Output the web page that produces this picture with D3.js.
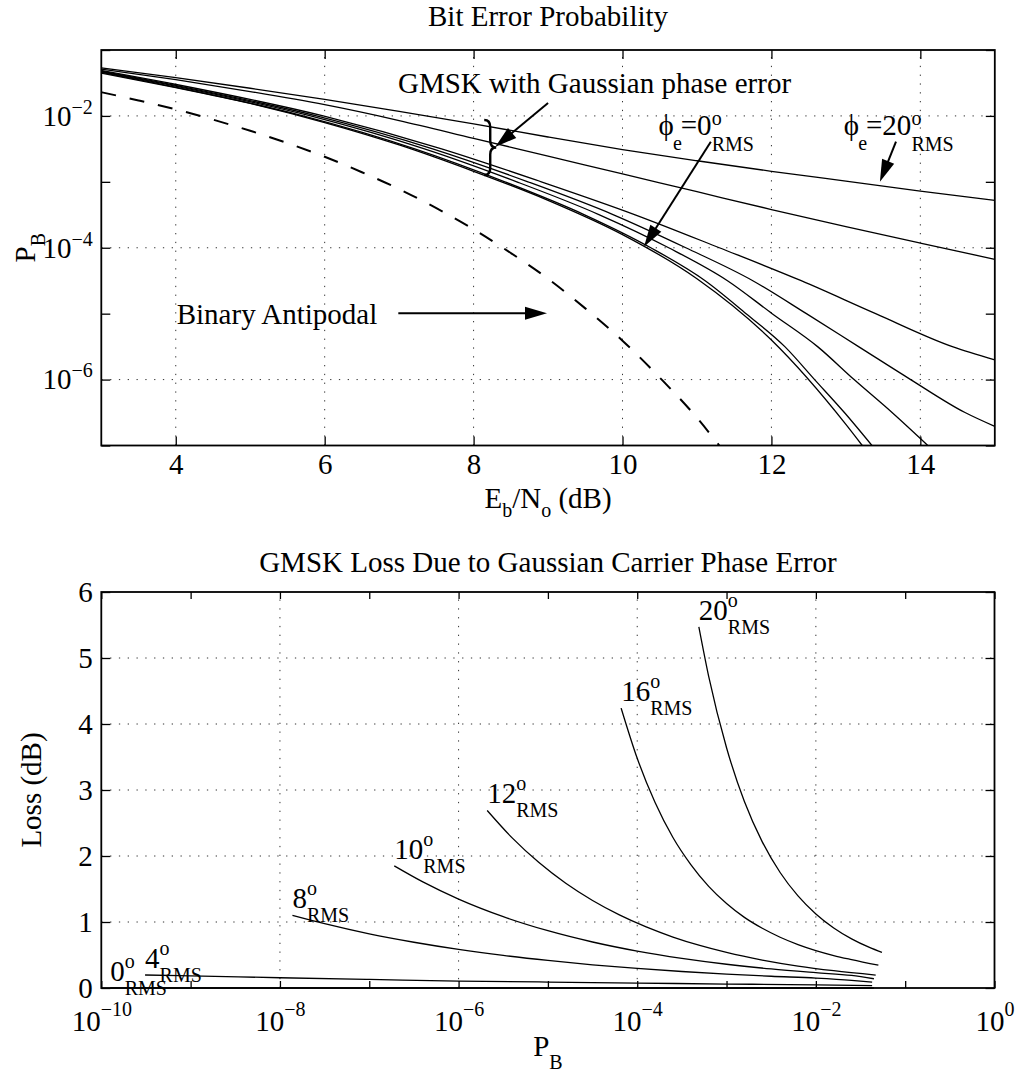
<!DOCTYPE html>
<html><head><meta charset="utf-8">
<script src="https://cdn.jsdelivr.net/npm/d3@7"></script>
<style>body{margin:0;background:#fff}</style>
</head><body>
<svg id="c" width="1017" height="1074"></svg>
<script>
// ---------------- DATA ----------------
// Top plot: Eb/No (dB) vs log10(P_B)
const antipodalEbNo = [3,3.5,4,4.5,5,5.5,6,6.5,7,7.5,8,8.5,9,9.5,10,10.5,11,11.3];
const antipodalLogPB = [-1.64,-1.765,-1.90,-2.056,-2.226,-2.413,-2.62,-2.854,-3.11,-3.40,-3.72,-4.08,-4.47,-4.92,-5.41,-5.97,-6.58,-7.0];

const ebno_phi0  = [3,4,5,6,7,8,9,10,11,12,13,13.22];
const logpb_phi0 = [-1.35,-1.57,-1.81,-2.10,-2.44,-2.84,-3.28,-3.80,-4.47,-5.40,-6.68,-7.0];
const ebno_phi4  = [3,3.72,5.71,7.21,8.42,9.49,10.38,11.11,11.66,12.18,12.58,12.98,13.35];
const logpb_phi4 = [-1.34,-1.5,-2,-2.5,-3,-3.5,-4,-4.5,-5,-5.5,-6,-6.5,-7];
const ebno_phi8  = [3,3.78,5.81,7.34,8.58,9.69,10.62,11.41,12.01,12.62,13.11,13.62,14.10];
const logpb_phi8 = [-1.33,-1.5,-2,-2.5,-3,-3.5,-4,-4.5,-5,-5.5,-6,-6.5,-7];
const ebno_phi10  = [3,3.83,5.89,7.45,8.73,9.88,10.85,11.75,12.47,13.17,13.87,14.6,15];
const logpb_phi10 = [-1.32,-1.5,-2,-2.5,-3,-3.5,-4,-4.5,-5,-5.5,-6,-6.5,-6.71];
const ebno_phi12  = [3,3.90,5.98,7.57,8.91,10.17,11.30,12.40,13.40,14.43,15];
const logpb_phi12 = [-1.31,-1.5,-2,-2.5,-3,-3.5,-4,-4.5,-5,-5.5,-5.70];
const ebno_phi16  = [3,4,5,6,7,8,9,10,11,12,13,14,15];
const logpb_phi16 = [-1.29,-1.45,-1.63,-1.83,-2.07,-2.34,-2.61,-2.88,-3.15,-3.42,-3.68,-3.93,-4.175];
const ebno_phi20  = [3,4,5,6,7,8,9,10,11,12,13,14,15];
const logpb_phi20 = [-1.27,-1.42,-1.58,-1.75,-1.93,-2.12,-2.32,-2.51,-2.68,-2.84,-2.99,-3.14,-3.28];

// Bottom plot: log10(P_B) vs Loss (dB)
const phiNames = ["0","4","8","10","12","16","20"];
const lossPB_phi0 = [-9.9,-1.35];
const loss_phi0   = [0,0];
const lossPB_phi4 = [-9.51,-9,-8,-7,-6,-5,-4,-3,-2,-1.37];
const loss_phi4   = [0.197,0.185,0.155,0.13,0.105,0.09,0.075,0.06,0.048,0.035];
const lossPB_phi8 = [-7.86,-7.5,-7,-6.5,-6,-5.5,-5,-4.5,-4,-3.5,-3,-2.5,-2,-1.6,-1.37];
const loss_phi8   = [1.10,0.974,0.82,0.693,0.585,0.494,0.417,0.351,0.296,0.250,0.211,0.178,0.150,0.117,0.09];
const lossPB_phi10 = [-6.72,-6.4,-6,-5.5,-5,-4.5,-4,-3.5,-3,-2.5,-2,-1.6,-1.35];
const loss_phi10   = [1.85,1.607,1.347,1.081,0.868,0.697,0.559,0.449,0.360,0.289,0.232,0.19,0.14];
const lossPB_phi12 = [-5.68,-5.4,-5.1,-4.8,-4.5,-4.2,-3.9,-3.6,-3.3,-3.0,-2.6,-2.2,-1.8,-1.33];
const loss_phi12   = [2.69,2.274,1.90,1.586,1.325,1.107,0.925,0.772,0.645,0.539,0.424,0.333,0.262,0.195];
const lossPB_phi16 = [-4.18,-4.0,-3.8,-3.6,-3.4,-3.2,-3.0,-2.8,-2.6,-2.4,-2.2,-2.0,-1.8,-1.6,-1.3];
const loss_phi16   = [4.24,3.48,2.81,2.28,1.87,1.54,1.28,1.07,0.905,0.769,0.658,0.567,0.492,0.430,0.345];
const lossPB_phi20 = [-3.31,-3.2,-3.0,-2.8,-2.6,-2.4,-2.2,-2.0,-1.8,-1.6,-1.4,-1.26];
const loss_phi20   = [5.47,4.72,3.64,2.825,2.214,1.750,1.395,1.122,0.910,0.745,0.615,0.54];

// Ticks
const topXTicks = [4,6,8,10,12,14];
const topYTickExps = [-7,-6,-5,-4,-3,-2,-1];
const topYLabelExps = [-6,-4,-2];
const botXTickExps = [-10,-9,-8,-7,-6,-5,-4,-3,-2,-1,0];
const botXLabelExps = [-10,-8,-6,-4,-2,0];
const botYTicks = [0,1,2,3,4,5,6];

// ---------------- DRAW ----------------
const FONT = "'Liberation Serif','Times New Roman',Times,serif";
const FS = 29, FSS = 20;
const svg = d3.select("#c");
svg.append("rect").attr("width",1017).attr("height",1074).attr("fill","#fff");

const x1 = d3.scaleLinear().domain([3,15]).range([101.3,994.8]);
const y1 = d3.scaleLog().domain([1e-7,1e-1]).range([445.5,50]);
const x2 = d3.scaleLog().domain([1e-10,1]).range([101.3,994.5]);
const y2 = d3.scaleLinear().domain([0,6]).range([988,592]);

const defs = svg.append("defs");
defs.append("clipPath").attr("id","clipT").append("rect")
  .attr("x",x1.range()[0]).attr("y",y1.range()[1]).attr("width",x1.range()[1]-x1.range()[0]).attr("height",y1.range()[0]-y1.range()[1]);
defs.append("clipPath").attr("id","clipB").append("rect")
  .attr("x",x2.range()[0]).attr("y",y2.range()[1]-2).attr("width",x2.range()[1]-x2.range()[0]).attr("height",y2.range()[0]-y2.range()[1]+4);

const gridStyle = s => s.attr("stroke","#333").attr("stroke-width",1).attr("stroke-dasharray","1.3,7.5");

// ---- top grid
const gT = svg.append("g");
topXTicks.forEach(v=>gT.append("line").attr("x1",x1(v)).attr("x2",x1(v)).attr("y1",y1.range()[0]).attr("y2",y1.range()[1]).call(gridStyle));
topYLabelExps.forEach(e=>gT.append("line").attr("y1",y1(10**e)).attr("y2",y1(10**e)).attr("x1",x1.range()[0]).attr("x2",x1.range()[1]).call(gridStyle));

// ---- bottom grid
const gB = svg.append("g");
botXLabelExps.filter(e=>e>-10&&e<0).forEach(e=>gB.append("line").attr("x1",x2(10**e)).attr("x2",x2(10**e)).attr("y1",y2.range()[0]).attr("y2",y2.range()[1]).call(gridStyle));
botYTicks.filter(v=>v>0&&v<6).forEach(v=>gB.append("line").attr("y1",y2(v)).attr("y2",y2(v)).attr("x1",x2.range()[0]).attr("x2",x2.range()[1]).call(gridStyle));

// ---- axes helper
function styleAxis(g){
  g.attr("font-family",FONT).attr("font-size",FS);
  g.select(".domain").remove();
  g.selectAll(".tick line").attr("stroke","#000").attr("stroke-width",1.3);
  g.selectAll(".tick text").attr("fill","#000");
}
function powLabel(sel, expFn, supDy){
  sel.selectAll(".tick text").each(function(d){
    const e = expFn(d);
    const t = d3.select(this); t.text(null);
    if(e===null) return;
    t.append("tspan").text("10");
    t.append("tspan").attr("font-size",FSS).attr("dy",supDy).text(e===0?"0":"\u2212"+(-e));
  });
}
const TL = 9;
// top plot axes
svg.append("g").attr("transform",`translate(0,${y1.range()[0]})`)
  .call(d3.axisBottom(x1).tickValues(topXTicks).tickSizeInner(-TL).tickSizeOuter(0).tickPadding(7.5).tickFormat(d3.format("d")))
  .call(styleAxis);
svg.append("g").attr("transform",`translate(0,${y1.range()[1]})`)
  .call(d3.axisTop(x1).tickValues(topXTicks).tickSizeInner(-TL).tickSizeOuter(0).tickFormat(""))
  .call(styleAxis);
const topLeft = svg.append("g").attr("transform",`translate(${x1.range()[0]},0)`)
  .call(d3.axisLeft(y1).tickValues(topYTickExps.map(e=>10**e)).tickSizeInner(-TL).tickSizeOuter(0).tickPadding(8.5).tickFormat(d=>"x"))
  .call(styleAxis);
powLabel(topLeft, d=>{const e=Math.round(Math.log10(d)); return topYLabelExps.includes(e)?e:null;}, -12);
svg.append("g").attr("transform",`translate(${x1.range()[1]},0)`)
  .call(d3.axisRight(y1).tickValues(topYTickExps.map(e=>10**e)).tickSizeInner(-TL).tickSizeOuter(0).tickFormat(""))
  .call(styleAxis);

// bottom plot axes
const botBottom = svg.append("g").attr("transform",`translate(0,${y2.range()[0]})`)
  .call(d3.axisBottom(x2).tickValues(botXTickExps.map(e=>10**e)).tickSizeInner(-7).tickSizeOuter(0).tickPadding(22).tickFormat(d=>"x"))
  .call(styleAxis);
powLabel(botBottom, d=>{const e=Math.round(Math.log10(d)); return botXLabelExps.includes(e)?e:null;}, -15);
svg.append("g").attr("transform",`translate(0,${y2.range()[1]})`)
  .call(d3.axisTop(x2).tickValues(botXTickExps.map(e=>10**e)).tickSizeInner(-7).tickSizeOuter(0).tickFormat(""))
  .call(styleAxis);
svg.append("g").attr("transform",`translate(${x2.range()[0]},0)`)
  .call(d3.axisLeft(y2).tickValues(botYTicks).tickSizeInner(-TL).tickSizeOuter(0).tickPadding(8.5).tickFormat(d3.format("d")))
  .call(styleAxis);
svg.append("g").attr("transform",`translate(${x2.range()[1]},0)`)
  .call(d3.axisRight(y2).tickValues(botYTicks).tickSizeInner(-TL).tickSizeOuter(0).tickFormat(""))
  .call(styleAxis);

// ---- top curves
const lineT = d3.line().x(d=>x1(d[0])).y(d=>y1(10**d[1])).curve(d3.curveMonotoneX);
const topSeries = [
  [ebno_phi0,logpb_phi0],[ebno_phi4,logpb_phi4],[ebno_phi8,logpb_phi8],[ebno_phi10,logpb_phi10],
  [ebno_phi12,logpb_phi12],[ebno_phi16,logpb_phi16],[ebno_phi20,logpb_phi20]
];
const gCT = svg.append("g").attr("clip-path","url(#clipT)");
topSeries.forEach(([xs,ys])=>{
  gCT.append("path").attr("d",lineT(xs.map((v,i)=>[v,ys[i]]))).attr("fill","none").attr("stroke","#000").attr("stroke-width",1.3);
});
gCT.append("path").attr("d",lineT(antipodalEbNo.map((v,i)=>[v,antipodalLogPB[i]])))
  .attr("fill","none").attr("stroke","#000").attr("stroke-width",2).attr("stroke-dasharray","15,14");

// ---- bottom curves
const lineB = d3.line().x(d=>x2(10**d[0])).y(d=>y2(d[1])).curve(d3.curveMonotoneX);
const botSeries = [
  [lossPB_phi0,loss_phi0],[lossPB_phi4,loss_phi4],[lossPB_phi8,loss_phi8],[lossPB_phi10,loss_phi10],
  [lossPB_phi12,loss_phi12],[lossPB_phi16,loss_phi16],[lossPB_phi20,loss_phi20]
];
const gCB = svg.append("g").attr("clip-path","url(#clipB)");
botSeries.forEach(([xs,ys])=>{
  gCB.append("path").attr("d",lineB(xs.map((v,i)=>[v,ys[i]]))).attr("fill","none").attr("stroke","#000").attr("stroke-width",1.3);
});

// ---- boxes
svg.append("rect").attr("x",x1.range()[0]).attr("y",y1.range()[1]).attr("width",x1.range()[1]-x1.range()[0]).attr("height",y1.range()[0]-y1.range()[1])
  .attr("fill","none").attr("stroke","#000").attr("stroke-width",1.8);
svg.append("rect").attr("x",x2.range()[0]).attr("y",y2.range()[1]).attr("width",x2.range()[1]-x2.range()[0]).attr("height",y2.range()[0]-y2.range()[1])
  .attr("fill","none").attr("stroke","#000").attr("stroke-width",1.8);

// ---- text helpers
function txt(x,y,s,opt={}){
  return svg.append("text").attr("x",x).attr("y",y).attr("font-family",FONT).attr("font-size",opt.size||FS)
    .attr("text-anchor",opt.anchor||"start").attr("fill","#000").text(s);
}
function arrow(xa,ya,xb,yb,hl=22,hw=13,sw=2){
  const dx=xb-xa, dy=yb-ya, L=Math.hypot(dx,dy), ux=dx/L, uy=dy/L;
  const bx=xb-ux*hl, by=yb-uy*hl;
  svg.append("line").attr("x1",xa).attr("y1",ya).attr("x2",bx+ux*3).attr("y2",by+uy*3).attr("stroke","#000").attr("stroke-width",sw);
  svg.append("path").attr("d",`M${xb},${yb}L${bx-uy*hw/2},${by+ux*hw/2}L${bx+uy*hw/2},${by-ux*hw/2}Z`).attr("fill","#000");
}

// titles
txt((x1.range()[0]+x1.range()[1])/2, 26, "Bit Error Probability", {anchor:"middle"});
txt((x2.range()[0]+x2.range()[1])/2, 572, "GMSK Loss Due to Gaussian Carrier Phase Error", {anchor:"middle"});

// x label top
{
  const t = txt((x1.range()[0]+x1.range()[1])/2, 508, "", {anchor:"middle"});
  t.append("tspan").text("E");
  t.append("tspan").attr("font-size",FSS).attr("dy",9).text("b");
  t.append("tspan").attr("dy",-9).text("/N");
  t.append("tspan").attr("font-size",FSS).attr("dy",9).text("o");
  t.append("tspan").attr("dy",-9).text(" (dB)");
}
// y label top
{
  const t = svg.append("text").attr("transform",`translate(35,${(y1.range()[0]+y1.range()[1])/2}) rotate(-90)`)
    .attr("font-family",FONT).attr("font-size",FS).attr("text-anchor","middle");
  t.append("tspan").text("P");
  t.append("tspan").attr("font-size",FSS).attr("dy",10).text("B");
}
// x label bottom
{
  const t = txt((x2.range()[0]+x2.range()[1])/2, 1056, "", {anchor:"middle"});
  t.append("tspan").text("P");
  t.append("tspan").attr("font-size",FSS).attr("dy",13).text("B");
}
// y label bottom
svg.append("text").attr("transform",`translate(41,${(y2.range()[0]+y2.range()[1])/2}) rotate(-90)`)
  .attr("font-family",FONT).attr("font-size",FS).attr("text-anchor","middle").text("Loss (dB)");

// ---- top annotations (data coords)
txt(x1(6.985), y1(10**-1.652), "GMSK with Gaussian phase error");
arrow(x1(9.0), y1(10**-1.804), x1(8.29), y1(10**-2.471));
{
  const bx = x1(8.21), t = y1(10**-2.062), b = y1(10**-2.896), m=(t+b)/2;
  svg.append("path").attr("d",
    `M${bx-5},${t} Q${bx+1},${t} ${bx+1},${t+7} L${bx+1},${m-7} Q${bx+1},${m} ${bx+7},${m} Q${bx+1},${m} ${bx+1},${m+7} L${bx+1},${b-7} Q${bx+1},${b} ${bx-5},${b}`)
    .attr("fill","none").attr("stroke","#000").attr("stroke-width",2.4);
}
function phiLabel(x,y,num){
  const t = txt(x,y,"");
  t.append("tspan").text("\u03D5");
  t.append("tspan").attr("font-size",FSS).attr("dx",-1).attr("dy",15).text("e");
  t.append("tspan").attr("dx",-1).attr("dy",-15).text("="+num);
  t.append("tspan").attr("font-size",FSS).attr("dy",-10).text("o");
  t.append("tspan").attr("font-size",FSS).attr("dx",-10).attr("dy",26).text("RMS");
}
phiLabel(x1(10.485), y1(10**-2.289), "0");
arrow(x1(11.186), y1(10**-2.391), x1(10.289), y1(10**-3.985));
phiLabel(x1(12.973), y1(10**-2.289), "20");
arrow(x1(13.673), y1(10**-2.391), x1(13.457), y1(10**-2.997));
txt(x1(4.013), y1(10**-5.157), "Binary Antipodal");
arrow(x1(6.989), y1(10**-4.994), x1(8.986), y1(10**-4.994));

// ---- bottom labels at the start of each curve
botSeries.forEach(([xs,ys],i)=>{
  const t = txt(x2(10**xs[0]), y2(ys[0]) - 7, "");
  t.append("tspan").text(phiNames[i]);
  t.append("tspan").attr("font-size",FSS).attr("dy",-13).text("o");
  t.append("tspan").attr("font-size",FSS).attr("dx",-10).attr("dy",27).text("RMS");
});
</script>
</body></html>
